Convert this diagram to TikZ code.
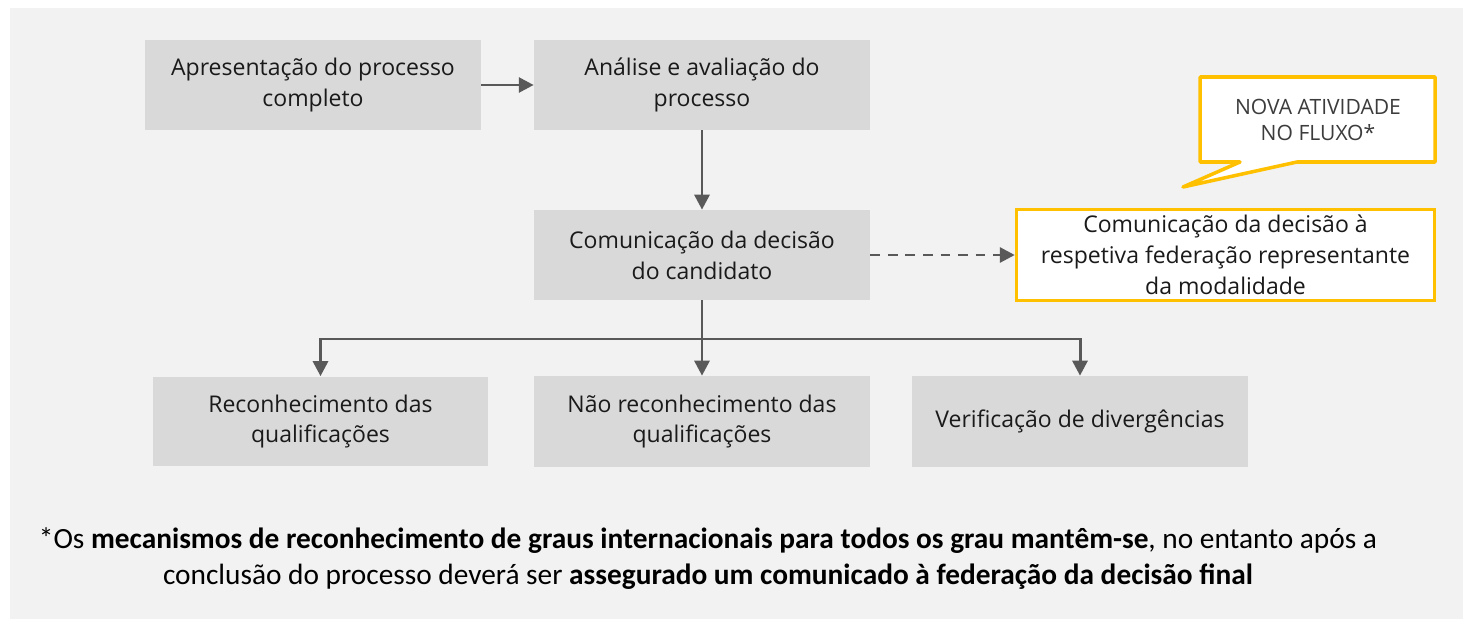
\documentclass[tikz,border=0pt]{standalone}
\usepackage{fontspec}
\setmainfont{Open Sans}
\newfontfamily\notafont{Carlito}
\usepackage{xcolor}
\usetikzlibrary{arrows.meta,positioning}
\definecolor{fundo}{HTML}{F2F2F2}
\definecolor{caixa}{HTML}{D9D9D9}
\definecolor{seta}{HTML}{595959}
\definecolor{realce}{HTML}{FFC000}
\definecolor{texto}{HTML}{1A1A1A}

\begin{document}
\begin{tikzpicture}[x=0.02cm,y=-0.02cm,
	etapa/.style={fill=caixa,minimum width=6.72cm,minimum height=1.8cm,inner sep=0pt,
		align=center,text=texto,font=\fontsize{13.1}{17.6}\selectfont},
	nova/.style={etapa,fill=white,draw=realce,line width=2pt,minimum width=8.36cm,minimum height=1.82cm},
	seta/.style={draw=seta,line width=1.7pt,-{Triangle[length=8.5pt,width=8.5pt]}}]
		% fundo
		\useasboundingbox (0,0) rectangle (1465,622);
		\fill[white] (0,0) rectangle (1465,622);
		\fill[fundo] (10,8) rectangle (1463,619);
		
		% etapas
		\node[etapa] (apresentacao) at (313,85) {Apresentação do processo\\completo};
		\node[etapa] (analise) at (702,85) {Análise e avaliação do\\processo};
		\node[etapa] (comunicacao) at (702,255) {Comunicação da decisão\\do candidato};
		\node[nova] (federacao) at (1225.5,255) {Comunicação da decisão à\\respetiva federação representante\\da modalidade};
		\node[etapa,minimum width=6.7cm] (reconhecimento) at (320.5,421.5) {Reconhecimento das\\qualificações};
		\node[etapa,minimum height=1.82cm] (naoreconhecimento) at (702,421.5) {Não reconhecimento das\\qualificações};
		\node[etapa,minimum height=1.82cm] (divergencias) at (1080,421.5) {Verificação de divergências};
		
		% balão
		\draw[realce,fill=white,line width=2pt,line join=round]
			(1200,77) -- (1435,77) -- (1435,162) -- (1297,162) -- (1183,187) -- (1240,162) -- (1200,162) -- cycle;
		\node[align=center,text=texto!85,font=\fontsize{12}{14.7}\selectfont] (balao) at (1318,120) {NOVA ATIVIDADE\\NO FLUXO*};
		
		% ligações
		\coordinate (divisao) at (702,339);
		\draw[seta] (apresentacao) -- (analise);
		\draw[seta] (analise) -- (comunicacao);
		\draw[seta,dash pattern=on 5.5pt off 4.5pt] (comunicacao) -- (federacao);
		\draw[draw=seta,line width=1.7pt] (comunicacao.south) -- (divisao);
		\draw[seta] (divisao) -| (reconhecimento.north);
		\draw[seta] (divisao) -- (naoreconhecimento.north);
		\draw[seta] (divisao) -| (divergencias.north);
		
		% nota
		\node[align=center,text=black,font=\notafont\fontsize{16.7}{20.5}\selectfont] (nota) at (708,559)
			{*Os \textbf{mecanismos de reconhecimento de graus internacionais para todos os grau mantêm-se}, no entanto após a\\
			conclusão do processo deverá ser \textbf{assegurado um comunicado à federação da decisão final}};
	\end{tikzpicture}
\end{document}
